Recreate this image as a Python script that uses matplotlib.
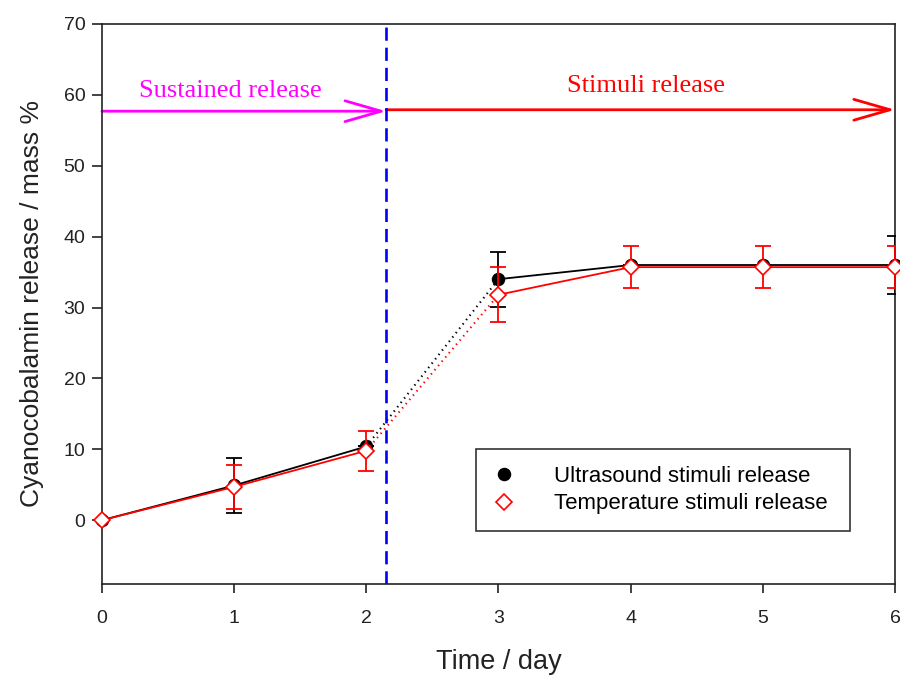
import matplotlib
matplotlib.use("Agg")
import matplotlib.pyplot as plt

plt.rcParams["lines.scale_dashes"] = False

days = [0, 1, 2, 3, 4, 5, 6]
ultrasound = [0.0, 4.9, 10.4, 34.0, 36.0, 36.0, 36.0]
ultrasound_err = [0.0, 3.9, 0.0, 3.9, 0.0, 0.0, 4.1]
temperature = [0.0, 4.7, 9.8, 31.8, 35.7, 35.7, 35.7]
temperature_err = [0.0, 3.1, 2.8, 3.9, 3.0, 3.0, 3.0]

stimulus_day = 2.15
sustained_level = 57.7
stimuli_level = 57.9

sans = "Liberation Sans"
serif = "Liberation Serif"
ink = "#222222"

fig = plt.figure(figsize=(9, 6.76), dpi=100)
ax = fig.add_axes([0.1133, 0.1361, 0.8811, 0.8284])


def draw_series(y, err, color, marker, mfc, ms, label, z):
    # solid before and after the stimulus, dotted across it
    ax.plot(days[:3], y[:3], color=color, lw=1.3, zorder=z)
    ax.plot(days[2:4], y[2:4], color=color, lw=1.5, ls=(0, (1, 3)), zorder=z)
    ax.plot(days[3:], y[3:], color=color, lw=1.3, zorder=z)
    ax.errorbar(days, y, yerr=err, fmt="none", ecolor=color, elinewidth=1.3,
                capsize=6, capthick=1.3, zorder=z)
    h, = ax.plot(days, y, ls="none", marker=marker, color=color, mfc=mfc,
                 mec=color, ms=ms, mew=1.2, label=label, zorder=z + 0.5,
                 clip_on=False)
    return h


h1 = draw_series(ultrasound, ultrasound_err, "black", "o", "black", 8.5,
                 "Ultrasound stimuli release", 3)
h2 = draw_series(temperature, temperature_err, "red", "D", "white", 8.0,
                 "Temperature stimuli release", 4)

ax.axvline(stimulus_day, color="blue", lw=1.9, dashes=[9.5, 5], zorder=5)

ax.annotate("", xy=(stimulus_day, sustained_level), xytext=(0, sustained_level),
            arrowprops=dict(arrowstyle="->,head_length=2.6,head_width=0.75",
                            color="magenta", lw=2.0, shrinkA=0, shrinkB=0,
                            mutation_scale=10), zorder=2)
ax.annotate("", xy=(6, stimuli_level), xytext=(stimulus_day, stimuli_level),
            arrowprops=dict(arrowstyle="->,head_length=2.6,head_width=0.75",
                            color="red", lw=2.0, shrinkA=0, shrinkB=0,
                            mutation_scale=10), zorder=2)
ax.text(0.97, 60.6, "Sustained release", color="magenta", fontsize=19,
        family=serif, ha="center", va="center")
ax.text(4.12, 61.2, "Stimuli release", color="red", fontsize=19,
        family=serif, ha="center", va="center")

ax.set_xlim(0, 6)
ax.set_ylim(-9, 70)
ax.set_xticks(days)
ax.set_yticks(range(0, 71, 10))
for s in ax.spines.values():
    s.set_linewidth(1.2)
    s.set_color(ink)
ax.tick_params(axis="both", direction="out", width=1.2, color=ink,
               labelsize=14, labelcolor=ink)
ax.tick_params(axis="x", length=6.5, pad=12)
ax.tick_params(axis="y", length=7, pad=5)
for lab in ax.get_xticklabels() + ax.get_yticklabels():
    lab.set_family(sans)

ax.set_xlabel("Time / day", fontsize=19.5, family=sans, color=ink, labelpad=16)
ax.set_ylabel("Cyanocobalamin release / mass %", fontsize=19, family=sans,
              color=ink, labelpad=14)

leg = ax.legend(handles=[h1, h2], loc="center",
                bbox_to_anchor=(0.472, 0.0946, 0.471, 0.146), mode="expand",
                prop={"family": sans, "size": 16}, frameon=True, fancybox=False,
                edgecolor="black", handlelength=1.0, handletextpad=1.75,
                borderpad=0.75, labelspacing=0.3, borderaxespad=0)
leg.get_frame().set_linewidth(1.2)

fig.savefig("out.png", dpi=100)
